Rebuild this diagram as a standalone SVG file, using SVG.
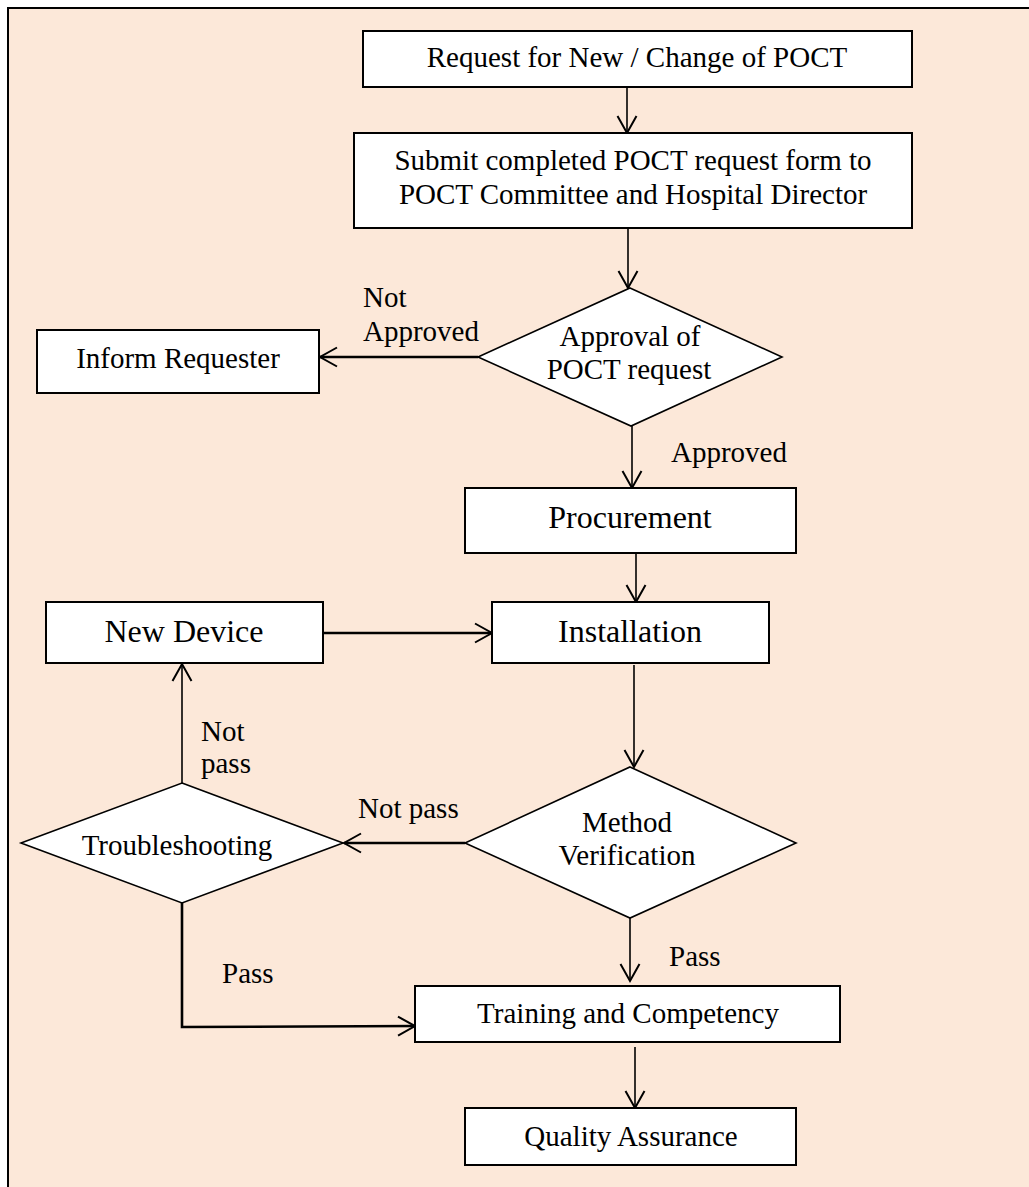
<svg xmlns="http://www.w3.org/2000/svg" width="1029" height="1187" viewBox="0 0 1029 1187">
<style>
.box{fill:#fff;stroke:#000;stroke-width:2}
.dia{fill:#fff;stroke:#000;stroke-width:1.6}
.t{font-family:"Liberation Serif","Times New Roman",serif;font-size:29px;fill:#000;text-anchor:middle}
.tl{font-family:"Liberation Serif","Times New Roman",serif;font-size:29px;fill:#000}
.big{font-size:32px}
.c{fill:none;stroke:#000;stroke-width:1.6;marker-end:url(#ah)}
.ck{fill:none;stroke:#000;stroke-width:2.6;marker-end:url(#ah)}
</style>
<defs>
<marker id="ah" markerUnits="userSpaceOnUse" markerWidth="22" markerHeight="22" refX="17" refY="9.5" orient="auto" overflow="visible">
<path d="M0,0 L17,9.5 L0,19" fill="none" stroke="#000" stroke-width="2"/>
</marker>
</defs>
<rect width="1029" height="1187" fill="#fff"/>
<rect x="8" y="8" width="1040" height="1200" fill="#FCE8D9" stroke="#000" stroke-width="2"/>

<g id="connectors">
<path class="c" d="M627,87 L627,133"/>
<path class="c" d="M628,228 L628,288"/>
<path class="ck" d="M478,357 L320,357"/>
<path class="c" d="M632,426 L632,488"/>
<path class="c" d="M636,553 L636,602"/>
<path class="ck" d="M323,633 L492,633"/>
<path class="c" d="M634,665 L634,767"/>
<path class="ck" d="M465,843 L344,843"/>
<path class="c" d="M182,783 L182,664"/>
<path class="ck" d="M182,903 L182,1027 L415,1026"/>
<path class="c" d="M630,918 L630,981"/>
<path class="c" d="M635,1047 L635,1108"/>
</g>

<g id="n-request">
<rect class="box" x="363" y="31" width="549" height="56"/>
<text class="t" x="637" y="67">Request for New / Change of POCT</text>
</g>
<g id="n-submit">
<rect class="box" x="354" y="133" width="558" height="95"/>
<text class="t" x="633" y="170">Submit completed POCT request form to</text>
<text class="t" x="633" y="204">POCT Committee and Hospital Director</text>
</g>
<g id="n-approval">
<polygon class="dia" points="630,288 782,357 631,426 478,357"/>
<text class="t" x="630" y="346">Approval of</text>
<text class="t" x="629" y="379">POCT request</text>
</g>
<g id="n-inform">
<rect class="box" x="37" y="330" width="282" height="63"/>
<text class="t" x="178" y="368">Inform Requester</text>
</g>
<g id="n-procurement">
<rect class="box" x="465" y="488" width="331" height="65"/>
<text class="t big" x="630" y="528">Procurement</text>
</g>
<g id="n-newdevice">
<rect class="box" x="46" y="602" width="277" height="61"/>
<text class="t big" x="184" y="642">New Device</text>
</g>
<g id="n-installation">
<rect class="box" x="492" y="602" width="277" height="61"/>
<text class="t big" x="630" y="642">Installation</text>
</g>
<g id="n-method">
<polygon class="dia" points="630,767 796,843 630,918 465,843"/>
<text class="t" x="627" y="832">Method</text>
<text class="t" x="627" y="865">Verification</text>
</g>
<g id="n-trouble">
<polygon class="dia" points="182,783 343,843 182,903 21,843"/>
<text class="t" x="177" y="855">Troubleshooting</text>
</g>
<g id="n-training">
<rect class="box" x="415" y="986" width="425" height="56"/>
<text class="t" x="628" y="1023">Training and Competency</text>
</g>
<g id="n-qa">
<rect class="box" x="465" y="1108" width="331" height="57"/>
<text class="t" x="631" y="1146">Quality Assurance</text>
</g>

<g id="labels">
<text class="tl" x="363" y="307">Not</text>
<text class="tl" x="363" y="341">Approved</text>
<text class="tl" x="671" y="462">Approved</text>
<text class="tl" x="201" y="741">Not</text>
<text class="tl" x="201" y="773">pass</text>
<text class="tl" x="358" y="818">Not pass</text>
<text class="tl" x="222" y="983">Pass</text>
<text class="tl" x="669" y="966">Pass</text>
</g>
</svg>
